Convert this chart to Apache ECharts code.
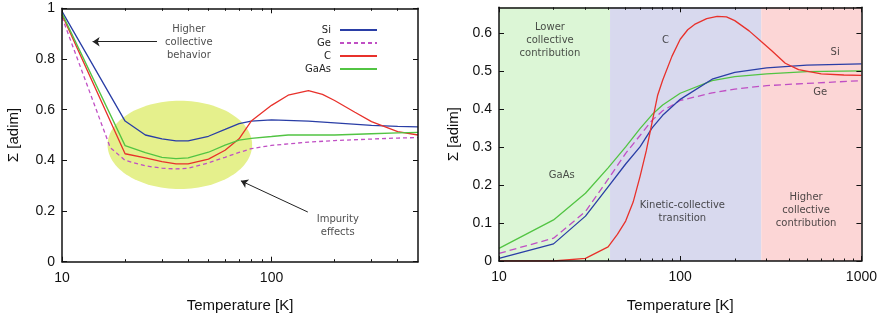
<!DOCTYPE html>
<html>
<head>
<meta charset="utf-8">
<script src="https://cdn.jsdelivr.net/npm/echarts@6/dist/echarts.min.js"></script>
<style>
  html, body { margin: 0; padding: 0; background: #fff; }
  #chart { width: 880px; height: 320px; }
</style>
</head>
<body>
<div id="chart"></div>
<script>
// ---- Left panel: Σ versus temperature (10–500 K) ----
const leftSiT    = [10, 20, 25, 30, 35, 40, 50, 60, 70, 80, 100, 150, 200, 300, 400, 500];
const leftSi     = [0.988, 0.555, 0.50, 0.485, 0.477, 0.477, 0.495, 0.522, 0.545, 0.555, 0.56, 0.555, 0.548, 0.538, 0.534, 0.532];
const leftGeT    = [10, 17, 20, 25, 30, 35, 40, 50, 60, 70, 80, 100, 150, 200, 300, 400, 500];
const leftGe     = [0.965, 0.45, 0.40, 0.378, 0.369, 0.366, 0.369, 0.39, 0.412, 0.431, 0.446, 0.459, 0.472, 0.478, 0.484, 0.488, 0.49];
const leftCT     = [10, 20, 25, 30, 35, 40, 50, 60, 70, 80, 100, 120, 150, 175, 200, 250, 300, 400, 500];
const leftC      = [0.975, 0.426, 0.41, 0.395, 0.386, 0.386, 0.405, 0.44, 0.485, 0.555, 0.617, 0.657, 0.675, 0.66, 0.636, 0.59, 0.553, 0.513, 0.50];
const leftGaAsT  = [10, 20, 25, 30, 35, 40, 50, 60, 70, 80, 100, 120, 150, 200, 300, 400, 500];
const leftGaAs   = [0.98, 0.458, 0.43, 0.412, 0.407, 0.41, 0.432, 0.46, 0.48, 0.487, 0.494, 0.50, 0.50, 0.50, 0.505, 0.508, 0.51];

// highlighted region (temperature range, Σ range)
const ellipseTemp  = [16.5, 80.8];
const ellipseSigma = [0.287, 0.635];

// ---- Right panel: Σ versus temperature (10–1000 K) ----
const rightT     = [10, 20, 30, 40, 50, 60, 70, 80, 100, 150, 200, 300, 500, 1000];
const rightSi    = [0.007, 0.045, 0.118, 0.195, 0.255, 0.30, 0.35, 0.383, 0.425, 0.478, 0.496, 0.508, 0.515, 0.518];
const rightGaAs  = [0.033, 0.108, 0.178, 0.245, 0.30, 0.348, 0.385, 0.41, 0.441, 0.474, 0.485, 0.492, 0.498, 0.50];
const rightGe    = [0.02, 0.06, 0.13, 0.215, 0.283, 0.33, 0.37, 0.395, 0.422, 0.442, 0.452, 0.461, 0.467, 0.474];
const rightCT    = [10, 20, 30, 40, 45, 50, 55, 60, 65, 70, 75, 80, 90, 100, 110, 120, 140, 160, 180, 200, 240, 280, 320, 380, 450, 600, 800, 1000];
const rightC     = [0, 0, 0.007, 0.037, 0.07, 0.105, 0.155, 0.222, 0.29, 0.365, 0.435, 0.475, 0.538, 0.583, 0.608, 0.622, 0.637, 0.643, 0.642, 0.632, 0.605, 0.577, 0.553, 0.52, 0.503, 0.492, 0.489, 0.488];

// regime boundaries (K)
const regimeEdges = [10, 41, 280, 1000];

// tick values
const majorTicksLeft  = [10, 100];
const minorTicksLeft  = [20, 30, 40, 50, 60, 70, 80, 90, 200, 300, 400];
const majorTicksRight = [10, 100, 1000];
const minorTicksRight = [20, 30, 40, 50, 60, 70, 80, 90, 200, 300, 400, 500, 600, 700, 800, 900];

const seriesNames  = ['Si', 'Ge', 'C', 'GaAs'];
const seriesColors = { Si: '#2a3ea6', Ge: '#c04fc4', C: '#e8312b', GaAs: '#52c443' };

const zip = (xs, ys) => xs.map((x, i) => [x, ys[i]]);

const labelFont = 'Liberation Sans, Arial, sans-serif';
const noteFont  = 'DejaVu Sans, sans-serif';
const ink = '#111';

function xAxes(gridIndex, max, major, minor, withLabels) {
  const base = {
    type: 'log', logBase: 10, min: 10, max: max, gridIndex: gridIndex, z: 10,
    splitLine: { show: false }, minorSplitLine: { show: false }
  };
  const lineStyle = { color: ink, width: 1.5 };
  return [
    Object.assign({}, base, {
      position: 'bottom',
      axisLine: { show: true, lineStyle: lineStyle },
      axisTick: { show: true, inside: true, length: 5, customValues: major, lineStyle: { color: ink, width: 1 } },
      axisLabel: {
        show: withLabels, customValues: major, margin: 9, fontSize: 14, color: ink, fontFamily: labelFont,
        formatter: v => String(Math.round(v))
      },
      name: 'Temperature [K]', nameLocation: 'middle', nameGap: 37,
      nameTextStyle: { fontSize: 15, color: ink, fontFamily: labelFont }
    }),
    Object.assign({}, base, {
      position: 'bottom',
      axisLine: { show: false },
      axisTick: { show: true, inside: true, length: 2.5, customValues: minor, lineStyle: { color: ink, width: 1 } },
      axisLabel: { show: false }
    }),
    Object.assign({}, base, {
      position: 'top',
      axisLine: { show: true, lineStyle: lineStyle },
      axisTick: { show: true, inside: true, length: 5, customValues: major, lineStyle: { color: ink, width: 1 } },
      axisLabel: { show: false }
    }),
    Object.assign({}, base, {
      position: 'top',
      axisLine: { show: false },
      axisTick: { show: true, inside: true, length: 2.5, customValues: minor, lineStyle: { color: ink, width: 1 } },
      axisLabel: { show: false }
    })
  ];
}

function yAxes(gridIndex, max, interval, nameGap) {
  const base = {
    type: 'value', min: 0, max: max, interval: interval, gridIndex: gridIndex, z: 10,
    splitLine: { show: false },
    axisLine: { show: true, lineStyle: { color: ink, width: 1.5 } },
    axisTick: { show: true, inside: true, length: 5, lineStyle: { color: ink, width: 1 } }
  };
  return [
    Object.assign({}, base, {
      position: 'left',
      axisLabel: { show: true, margin: 7, fontSize: 14, color: ink, fontFamily: labelFont, showMaxLabel: max === 1 },
      name: 'Σ [adim]', nameLocation: 'middle', nameGap: nameGap,
      nameTextStyle: { fontSize: 15, color: ink, fontFamily: labelFont }
    }),
    Object.assign({}, base, { position: 'right', axisLabel: { show: false } })
  ];
}

function curve(name, xs, ys, xi, yi, dash) {
  return {
    name: name, type: 'line', xAxisIndex: xi, yAxisIndex: yi,
    data: zip(xs, ys), symbol: 'none', z: 3, silent: true,
    color: seriesColors[name],
    lineStyle: { color: seriesColors[name], width: 1.3, type: dash || 'solid' }
  };
}

function notes(xi, yi, items) {
  return {
    type: 'scatter', xAxisIndex: xi, yAxisIndex: yi, symbolSize: 0, silent: true, z: 4,
    data: items.map(n => ({ name: n[2], value: [n[0], n[1]] })),
    label: {
      show: true, position: 'inside', formatter: '{b}',
      fontSize: 10, lineHeight: 13, color: '#222', fontFamily: noteFont, align: 'center', verticalAlign: 'middle'
    }
  };
}

const chart = echarts.init(document.getElementById('chart'), null, { renderer: 'canvas' });

const option = {
  animation: false,
  backgroundColor: '#fff',
  grid: [
    { left: 62, right: 462, top: 8.3, bottom: 58.3 },
    { left: 499, right: 18, top: 7.3, bottom: 59 }
  ],
  legend: {
    orient: 'vertical', right: 502, top: 25, align: 'right',
    itemWidth: 37, itemHeight: 10, itemGap: 3, padding: 0,
    selectedMode: false, data: seriesNames,
    itemStyle: { color: 'transparent', borderColor: 'transparent', borderWidth: 0, opacity: 0 },
    textStyle: { fontSize: 10, color: '#222', fontFamily: noteFont, padding: [0, 4, 0, 0] }
  },
  xAxis: [].concat(
    xAxes(0, 500, majorTicksLeft, minorTicksLeft, true),
    xAxes(1, 1000, majorTicksRight, minorTicksRight, true)
  ),
  yAxis: [].concat(
    yAxes(0, 1, 0.2, 41),
    yAxes(1, 0.667, 0.1, 38)
  ),
  series: [
    // highlighted region in the left panel
    {
      type: 'custom', xAxisIndex: 0, yAxisIndex: 0, silent: true, z: 1,
      data: [[ellipseTemp[0], ellipseSigma[0]]],
      renderItem: function (params, api) {
        const a = api.coord([ellipseTemp[0], ellipseSigma[1]]);
        const b = api.coord([ellipseTemp[1], ellipseSigma[0]]);
        const cx = (a[0] + b[0]) / 2, cy = (a[1] + b[1]) / 2;
        const rx = (b[0] - a[0]) / 2, ry = (b[1] - a[1]) / 2;
        const pts = [];
        for (let i = 0; i < 120; i++) {
          const t = i / 120 * Math.PI * 2;
          pts.push([cx + rx * Math.cos(t), cy + ry * Math.sin(t)]);
        }
        return { type: 'polygon', shape: { points: pts }, style: { fill: 'rgb(229,240,140)' } };
      }
    },
    curve('Si', leftSiT, leftSi, 0, 0),
    curve('Ge', leftGeT, leftGe, 0, 0, [4, 3]),
    curve('C', leftCT, leftC, 0, 0),
    curve('GaAs', leftGaAsT, leftGaAs, 0, 0),
    {
      type: 'lines', coordinateSystem: 'cartesian2d', xAxisIndex: 0, yAxisIndex: 0,
      silent: true, z: 4, symbol: ['none', 'arrow'], symbolSize: 7,
      lineStyle: { color: '#222', width: 1, opacity: 1 },
      data: [
        { coords: [[28.4, 0.868], [14.0, 0.868]] },
        { coords: [[149, 0.196], [71.4, 0.319]] }
      ]
    },
    notes(0, 0, [
      [40.3, 0.866, 'Higher\ncollective\nbehavior'],
      [207, 0.141, 'Impurity\neffects']
    ]),

    // regime bands in the right panel
    {
      type: 'line', xAxisIndex: 4, yAxisIndex: 2, data: [], z: 0, silent: true,
      markArea: {
        silent: true,
        data: [
          [{ xAxis: regimeEdges[0], itemStyle: { color: '#dcf6d6' } }, { xAxis: regimeEdges[1] }],
          [{ xAxis: regimeEdges[1], itemStyle: { color: '#d8d9ee' } }, { xAxis: regimeEdges[2] }],
          [{ xAxis: regimeEdges[2], itemStyle: { color: '#fcd6d6' } }, { xAxis: regimeEdges[3] }]
        ]
      }
    },
    curve('GaAs', rightT, rightGaAs, 4, 2),
    curve('Ge', rightT, rightGe, 4, 2, [7, 4]),
    curve('Si', rightT, rightSi, 4, 2),
    curve('C', rightCT, rightC, 4, 2),
    notes(4, 2, [
      [19.1, 0.579, 'Lower\ncollective\ncontribution'],
      [82.9, 0.58, 'C'],
      [716, 0.548, 'Si'],
      [592, 0.444, 'Ge'],
      [22.2, 0.226, 'GaAs'],
      [102.8, 0.128, 'Kinetic-collective\ntransition'],
      [495, 0.132, 'Higher\ncollective\ncontribution']
    ])
  ]
};

chart.setOption(option);
</script>
</body>
</html>
